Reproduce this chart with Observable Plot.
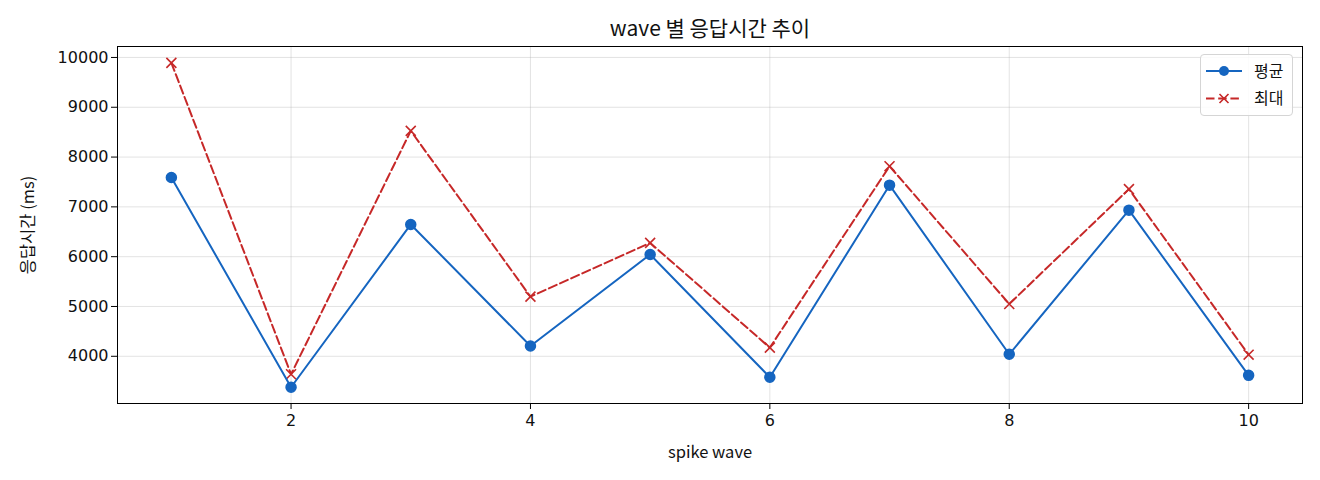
<!DOCTYPE html>
<html>
<head>
<meta charset="utf-8">
<script src="https://cdn.jsdelivr.net/npm/d3@7"></script>
<script src="https://cdn.jsdelivr.net/npm/@observablehq/plot@0.6"></script>
<style>
  html, body { margin: 0; padding: 0; background: #fff; }
  #wrap { position: relative; width: 1320px; height: 480px; font-family: "Noto Sans CJK KR", "DejaVu Sans", sans-serif; }
  #legend { position: absolute; left: 1200px; top: 54px; width: 93px; height: 62px; border: 1px solid #d5d5d5; border-radius: 4px; background: rgba(255,255,255,0.85); box-sizing: border-box; }
  #legend svg { display: block; }
</style>
</head>
<body>
<div id="wrap">
  <div id="chart"></div>
  <div id="legend"></div>
</div>
<script>
const waves = [1, 2, 3, 4, 5, 6, 7, 8, 9, 10];
const meanValues = [7590, 3378, 6647, 4207, 6044, 3578, 7436, 4040, 6934, 3618];
const maxValues = [9892, 3639, 8526, 5197, 6277, 4173, 7817, 5050, 7356, 4032];
const xTicks = [2, 4, 6, 8, 10];
const yTicks = [4000, 5000, 6000, 7000, 8000, 9000, 10000];
const seriesNames = ["평균", "최대"];
const colors = ["#1565C0", "#C62828"];
const titleText = "wave 별 응답시간 추이";
const xLabel = "spike wave";
const yLabel = "응답시간 (ms)";

const meanData = waves.map((w, i) => ({wave: w, value: meanValues[i]}));
const maxData = waves.map((w, i) => ({wave: w, value: maxValues[i]}));

const textFont = '"Noto Sans CJK KR", "DejaVu Sans", sans-serif';
const numFont = '"DejaVu Sans", "Noto Sans CJK KR", sans-serif';

const chart = Plot.plot({
  width: 1320,
  height: 480,
  marginLeft: 117,
  marginRight: 18,
  marginTop: 46,
  marginBottom: 77,
  style: {fontFamily: textFont, fontSize: "16px", color: "#111", background: "white"},
  x: {domain: [0.55, 10.45], ticks: xTicks},
  y: {domain: [3052, 10220], ticks: yTicks},
  marks: [
    Plot.gridX(xTicks, {stroke: "#b0b0b0", strokeOpacity: 0.35, strokeWidth: 1}),
    Plot.gridY(yTicks, {stroke: "#b0b0b0", strokeOpacity: 0.35, strokeWidth: 1}),
    Plot.axisX(xTicks, {tickSize: 6, tickPadding: 5, label: null, fontSize: 16, fontFamily: numFont, stroke: "#000", tickFormat: d => String(d)}),
    Plot.axisY(yTicks, {tickSize: 6, tickPadding: 3, label: null, fontSize: 16, fontFamily: numFont, stroke: "#000", tickFormat: d => String(d)}),
    Plot.line(maxData, {x: "wave", y: "value", stroke: colors[1], strokeWidth: 2, strokeDasharray: "8.5,3.7"}),
    Plot.dot(maxData, {x: "wave", y: "value", symbol: "times", r: 4.6, stroke: colors[1], strokeWidth: 1.6}),
    Plot.line(meanData, {x: "wave", y: "value", stroke: colors[0], strokeWidth: 2}),
    Plot.dot(meanData, {x: "wave", y: "value", r: 5, fill: colors[0], stroke: colors[0]}),
    Plot.frame({stroke: "#000", strokeWidth: 1}),
    Plot.text([titleText], {text: d => d, frameAnchor: "top", dy: -17, lineAnchor: "middle", fontSize: 21, fill: "#111"}),
    Plot.text([xLabel], {text: d => d, frameAnchor: "bottom", dy: 49, lineAnchor: "middle", fontSize: 16.5, fill: "#111"}),
    Plot.text([yLabel], {text: d => d, frameAnchor: "left", dx: -89, rotate: -90, lineAnchor: "middle", textAnchor: "middle", fontSize: 16.5, fill: "#111"})
  ]
});
document.getElementById("chart").appendChild(chart);

// Legend (HTML overlay)
const lg = d3.select("#legend").append("svg").attr("width", 91).attr("height", 60);
seriesNames.forEach((name, i) => {
  const y = 16 + i * 27.5;
  const g = lg.append("g");
  g.append("line").attr("x1", 5).attr("x2", 41).attr("y1", y).attr("y2", y)
    .attr("stroke", colors[i]).attr("stroke-width", 2)
    .attr("stroke-dasharray", i === 1 ? "8.5,3.7" : null);
  if (i === 0) {
    g.append("circle").attr("cx", 23).attr("cy", y).attr("r", 5).attr("fill", colors[i]);
  } else {
    g.append("path").attr("d", `M${23-4.5},${y-4.5}L${23+4.5},${y+4.5}M${23-4.5},${y+4.5}L${23+4.5},${y-4.5}`)
      .attr("stroke", colors[i]).attr("stroke-width", 1.6);
  }
  g.append("text").attr("x", 53).attr("y", y).attr("dy", "0.35em")
    .attr("font-family", textFont).attr("font-size", 16).attr("fill", "#111").text(name);
});
</script>
</body>
</html>
